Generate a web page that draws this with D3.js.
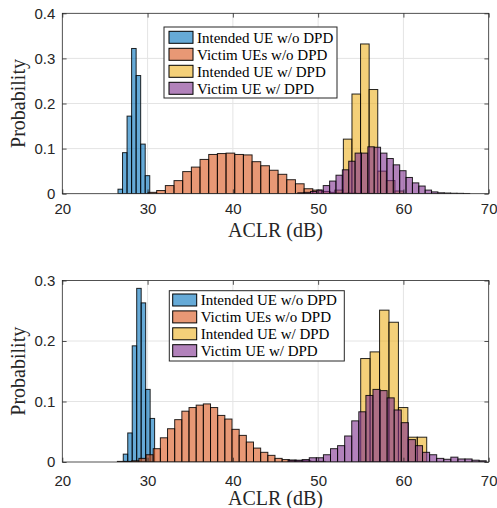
<!DOCTYPE html>
<html>
<head>
<meta charset="utf-8">
<script src="https://cdn.jsdelivr.net/npm/d3@7"></script>
<style>
  html, body { margin: 0; padding: 0; background: #fff; }
  svg { display: block; }
</style>
</head>
<body>
<div id="chart"></div>
<script>
// ---------------- DATA ----------------
const legendLabels = ["Intended UE w/o DPD", "Victim UEs w/o DPD", "Intended UE w/ DPD", "Victim UE w/ DPD"];
const xTicks = [20, 30, 40, 50, 60, 70];
const topYTicks = [0, 0.1, 0.2, 0.3, 0.4];
const botYTicks = [0, 0.1, 0.2, 0.3];

// Top panel histograms: first bin edge (dB), bin width (dB), probabilities
const topBlueStart = 26.53, topBlueWidth = 0.532;
const topBlue = [0.010, 0.091, 0.172, 0.322, 0.262, 0.110, 0.040];

const topOrangeStart = 30.05, topOrangeWidth = 1.017;
const topOrange = [0.003, 0.007, 0.018, 0.029, 0.049, 0.059, 0.076, 0.087, 0.089, 0.090, 0.087, 0.086, 0.071, 0.062, 0.052, 0.043, 0.031, 0.022, 0.011, 0.008, 0.005, 0.003, 0.002, 0.002, 0.001, 0.001];

const topYellowStart = 51.95, topYellowWidth = 1.008;
const topYellow = [0.008, 0.121, 0.221, 0.332, 0.231, 0.050, 0.029, 0.006];

const topPurpleStart = 47.61, topPurpleWidth = 0.747;
const topPurple = [0.002, 0.003, 0.005, 0.008, 0.018, 0.028, 0.041, 0.053, 0.072, 0.090, 0.090, 0.104, 0.103, 0.090, 0.078, 0.064, 0.051, 0.036, 0.024, 0.017, 0.008, 0.004, 0.002, 0.0015, 0.001, 0.0008, 0.0005];

// Bottom panel histograms
const botBlueStart = 27.15, botBlueWidth = 0.525;
const botBlue = [0.013, 0.048, 0.192, 0.287, 0.263, 0.120, 0.072];

const botOrangeStart = 26.46, botOrangeWidth = 0.84;
const botOrange = [0.001, 0.001, 0.002, 0.006, 0.012, 0.022, 0.040, 0.055, 0.070, 0.084, 0.090, 0.094, 0.096, 0.090, 0.077, 0.071, 0.054, 0.044, 0.033, 0.023, 0.016, 0.011, 0.006, 0.004, 0.003, 0.002, 0.002, 0.001, 0.001];

const botYellowStart = 54.99, botYellowWidth = 1.106;
const botYellow = [0.171, 0.182, 0.251, 0.231, 0.090, 0.041, 0.041];

const botPurpleStart = 46.47, botPurpleWidth = 0.83;
const botPurple = [0.003, 0.003, 0.004, 0.007, 0.007, 0.012, 0.022, 0.027, 0.043, 0.068, 0.083, 0.110, 0.120, 0.118, 0.106, 0.086, 0.065, 0.037, 0.027, 0.016, 0.012, 0.006, 0.0045, 0.008, 0.005, 0.005, 0.003, 0.002];

// ---------------- STYLE / LAYOUT ----------------
const W = 497, H = 508;
const colors = ["rgb(0,114,189)", "rgb(217,83,25)", "rgb(237,177,32)", "rgb(126,47,142)"];
const axisColor = "#262626";
const serif = "'Liberation Serif', 'Times New Roman', serif";
const sans = "'Liberation Sans', Arial, Helvetica, sans-serif";

const svg = d3.select("#chart").append("svg")
  .attr("width", W).attr("height", H)
  .attr("viewBox", `0 0 ${W} ${H}`);

function bins(start, width, vals) {
  return vals.map((v, i) => ({ x0: start + i * width, x1: start + (i + 1) * width, p: v }));
}

const panels = [
  {
    id: "top", yMax: 0.4, yTicks: topYTicks, x0: 62.3, x1: 488.7, yTop: 13.3, yBot: 193.7,
    xPad: 10, xLabelY: 237,
    series: [bins(topBlueStart, topBlueWidth, topBlue), bins(topOrangeStart, topOrangeWidth, topOrange),
             bins(topYellowStart, topYellowWidth, topYellow), bins(topPurpleStart, topPurpleWidth, topPurple)],
    legend: { x: 164, y: 27, w: 173, h: 71, patchX: 169, textX: 197, row0: 37.3, rowStep: 17.0 }
  },
  {
    id: "bot", yMax: 0.3, yTicks: botYTicks, x0: 62.3, x1: 488.7, yTop: 280.5, yBot: 462,
    xPad: 13, xLabelY: 505,
    series: [bins(botBlueStart, botBlueWidth, botBlue), bins(botOrangeStart, botOrangeWidth, botOrange),
             bins(botYellowStart, botYellowWidth, botYellow), bins(botPurpleStart, botPurpleWidth, botPurple)],
    legend: { x: 169.3, y: 290.7, w: 175, h: 70.3, patchX: 172.7, textX: 200.7, row0: 300, rowStep: 16.9 }
  }
];

const yFmt = d => d === 0 ? "0" : d3.format(".1f")(d);
const tickLen = 4.3;

panels.forEach(P => {
  const x = d3.scaleLinear().domain([20, 70]).range([P.x0, P.x1]);
  const y = d3.scaleLinear().domain([0, P.yMax]).range([P.yBot, P.yTop]);
  const g = svg.append("g");

  // clip
  const clipId = "clip-" + P.id;
  svg.append("clipPath").attr("id", clipId).append("rect")
    .attr("x", P.x0).attr("y", P.yTop).attr("width", P.x1 - P.x0).attr("height", P.yBot - P.yTop);

  // background
  g.append("rect").attr("x", P.x0).attr("y", P.yTop).attr("width", P.x1 - P.x0).attr("height", P.yBot - P.yTop)
    .attr("fill", "#fff");

  // grid
  const grid = g.append("g").attr("stroke", "#e4e4e4").attr("stroke-width", 1);
  grid.selectAll("line.gx").data(xTicks.slice(1, -1)).join("line")
    .attr("x1", d => x(d)).attr("x2", d => x(d)).attr("y1", P.yTop).attr("y2", P.yBot);
  grid.selectAll("line.gy").data(P.yTicks.slice(1, -1)).join("line")
    .attr("y1", d => y(d)).attr("y2", d => y(d)).attr("x1", P.x0).attr("x2", P.x1);

  // bars
  const barsG = g.append("g").attr("clip-path", `url(#${clipId})`);
  P.series.forEach((s, si) => {
    barsG.append("g").selectAll("rect").data(s).join("rect")
      .attr("x", d => x(d.x0)).attr("width", d => x(d.x1) - x(d.x0))
      .attr("y", d => y(d.p)).attr("height", d => y(0) - y(d.p))
      .attr("fill", colors[si]).attr("fill-opacity", 0.6)
      .attr("stroke", "#000").attr("stroke-width", 1).attr("stroke-opacity", 0.85);
  });

  // axes
  const axB = d3.axisBottom(x).tickValues(xTicks).tickSize(-tickLen).tickPadding(P.xPad).tickFormat(d3.format("d"));
  const axT = d3.axisTop(x).tickValues(xTicks).tickSize(-tickLen).tickFormat("");
  const axL = d3.axisLeft(y).tickValues(P.yTicks).tickSize(-tickLen).tickPadding(7).tickFormat(yFmt);
  const axR = d3.axisRight(y).tickValues(P.yTicks).tickSize(-tickLen).tickFormat("");

  const styleAxis = sel => {
    sel.select(".domain").remove();
    sel.selectAll(".tick line").attr("stroke", axisColor).attr("stroke-width", 0.8);
    sel.selectAll(".tick text").attr("fill", axisColor).attr("font-family", sans).attr("font-size", 15);
  };
  g.append("g").attr("transform", `translate(0,${P.yBot})`).call(axB).call(styleAxis);
  g.append("g").attr("transform", `translate(0,${P.yTop})`).call(axT).call(styleAxis);
  g.append("g").attr("transform", `translate(${P.x0},0)`).call(axL).call(styleAxis);
  g.append("g").attr("transform", `translate(${P.x1},0)`).call(axR).call(styleAxis);

  // frame
  g.append("rect").attr("x", P.x0).attr("y", P.yTop).attr("width", P.x1 - P.x0).attr("height", P.yBot - P.yTop)
    .attr("fill", "none").attr("stroke", axisColor).attr("stroke-width", 0.8);

  // axis labels
  g.append("text").attr("x", (P.x0 + P.x1) / 2).attr("y", P.xLabelY)
    .attr("text-anchor", "middle").attr("font-family", serif).attr("font-size", 20).attr("fill", axisColor)
    .text("ACLR (dB)");
  g.append("text")
    .attr("transform", `translate(24.5,${(P.yTop + P.yBot) / 2}) rotate(-90)`)
    .attr("text-anchor", "middle").attr("font-family", serif).attr("font-size", 20).attr("fill", axisColor)
    .text("Probability");

  // legend
  const L = P.legend;
  const lg = g.append("g");
  lg.append("rect").attr("x", L.x).attr("y", L.y).attr("width", L.w).attr("height", L.h)
    .attr("fill", "#fff").attr("stroke", axisColor).attr("stroke-width", 1);
  legendLabels.forEach((lab, i) => {
    const cy = L.row0 + i * L.rowStep;
    lg.append("rect").attr("x", L.patchX).attr("y", cy - 6).attr("width", 24).attr("height", 12)
      .attr("fill", colors[i]).attr("fill-opacity", 0.6).attr("stroke", "#000").attr("stroke-width", 1);
    lg.append("text").attr("x", L.textX).attr("y", cy).attr("dy", "0.35em")
      .attr("font-family", serif).attr("font-size", 15).attr("fill", "#000").text(lab);
  });
});
</script>
</body>
</html>
